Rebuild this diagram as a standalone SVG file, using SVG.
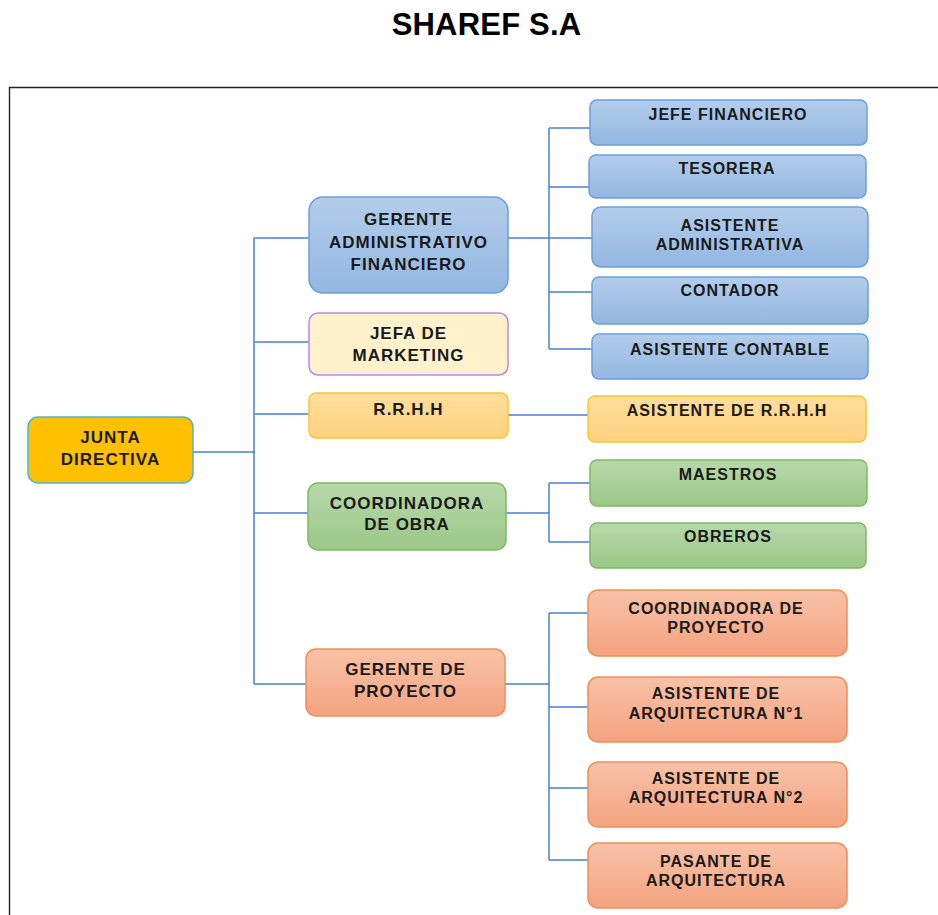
<svg xmlns="http://www.w3.org/2000/svg" width="938" height="915" viewBox="0 0 938 915">
<defs>
<linearGradient id="gBlue" x1="0" y1="0" x2="0" y2="1"><stop offset="0" stop-color="#B3CDEB"/><stop offset="1" stop-color="#93B7E1"/></linearGradient>
<linearGradient id="gYel" x1="0" y1="0" x2="0" y2="1"><stop offset="0" stop-color="#FFDE9C"/><stop offset="1" stop-color="#FFD27E"/></linearGradient>
<linearGradient id="gGreen" x1="0" y1="0" x2="0" y2="1"><stop offset="0" stop-color="#B7D9AB"/><stop offset="1" stop-color="#9BC886"/></linearGradient>
<linearGradient id="gOr" x1="0" y1="0" x2="0" y2="1"><stop offset="0" stop-color="#F8C2A8"/><stop offset="1" stop-color="#F4A380"/></linearGradient>
<style>
.blue{fill:url(#gBlue);stroke:#6C9FDA;stroke-width:1.5}
.yel{fill:url(#gYel);stroke:#FCC431;stroke-width:1.5}
.green{fill:url(#gGreen);stroke:#80B866;stroke-width:1.5}
.or{fill:url(#gOr);stroke:#F08E55;stroke-width:1.5}
.mk{fill:#FFF1CC;stroke:#B589EC;stroke-width:1.5}
.jd{fill:#FFC000;stroke:#4DB6D0;stroke-width:1.5}
text{font-family:"Liberation Sans",Arial,sans-serif;font-weight:bold;fill:#1a1a1a;text-anchor:middle}
.L{font-size:17px;letter-spacing:1px}
.S{font-size:16px;letter-spacing:1px}
.con{fill:none;stroke:#4E7FD2;stroke-width:1.5}
</style>
</defs>
<rect width="938" height="915" fill="#fff"/>
<text x="486.5" y="35" style="font-size:31px;letter-spacing:0.2px;fill:#000">SHAREF S.A</text>
<path d="M9.5 915 V87.5 H938" fill="none" stroke="#222" stroke-width="1.4"/>

<g id="connectors" class="con">
<path class="con" d="M193 452 H255"/>
<path class="con" d="M254 238 V684"/>
<path class="con" d="M254 238 H309 M254 342 H309 M254 414 H309 M254 513 H308 M254 684 H306"/>
<path class="con" d="M508 238 H592 M549 128 V349 M549 128 H590 M549 187 H589 M549 292 H592 M549 349 H592"/>
<path class="con" d="M508 415 H588"/>
<path class="con" d="M506 513 H549 M549 483 V542 M549 483 H590 M549 542 H590"/>
<path class="con" d="M505 684 H549 M549 613 V860 M549 613 H588 M549 707 H588 M549 788 H588 M549 860 H588"/>
</g>

<g id="junta"><rect class="jd" x="28" y="417" width="165" height="66" rx="10"/><text class="L" x="110.5" y="443">JUNTA</text><text class="L" x="110.5" y="465">DIRECTIVA</text></g>

<g id="gerente-admin"><rect class="blue" x="309" y="197" width="199" height="96" rx="14"/><text class="L" x="408.5" y="225">GERENTE</text><text class="L" x="408.5" y="248">ADMINISTRATIVO</text><text class="L" x="408.5" y="270">FINANCIERO</text></g>
<g id="marketing"><rect class="mk" x="309" y="313" width="199" height="62" rx="9"/><text class="L" x="408.5" y="338.5">JEFA DE</text><text class="L" x="408.5" y="361">MARKETING</text></g>
<g id="rrhh"><rect class="yel" x="309" y="393" width="199" height="45" rx="7"/><text class="L" x="408.5" y="415">R.R.H.H</text></g>
<g id="coord-obra"><rect class="green" x="308" y="483" width="198" height="67" rx="10"/><text class="L" x="407" y="508.5">COORDINADORA</text><text class="L" x="407" y="530">DE OBRA</text></g>
<g id="gerente-proy"><rect class="or" x="306" y="649" width="199" height="67" rx="10"/><text class="L" x="405.5" y="675">GERENTE DE</text><text class="L" x="405.5" y="697">PROYECTO</text></g>

<g id="jefe-fin"><rect class="blue" x="590" y="100" width="277" height="45" rx="7"/><text class="S" x="728" y="119.5">JEFE FINANCIERO</text></g>
<g id="tesorera"><rect class="blue" x="589" y="155" width="277" height="43" rx="7"/><text class="S" x="727" y="173.5">TESORERA</text></g>
<g id="asist-admin"><rect class="blue" x="592" y="207" width="276" height="60" rx="9"/><text class="S" x="730" y="230.5">ASISTENTE</text><text class="S" x="730" y="249.5">ADMINISTRATIVA</text></g>
<g id="contador"><rect class="blue" x="592" y="277" width="276" height="47" rx="7"/><text class="S" x="730" y="295.5">CONTADOR</text></g>
<g id="asist-contable"><rect class="blue" x="592" y="334" width="276" height="45" rx="7"/><text class="S" x="730" y="354.5">ASISTENTE CONTABLE</text></g>

<g id="asist-rrhh"><rect class="yel" x="588" y="396" width="278" height="46" rx="7"/><text class="S" x="727" y="415.5">ASISTENTE DE R.R.H.H</text></g>

<g id="maestros"><rect class="green" x="590" y="460" width="277" height="46" rx="7"/><text class="S" x="728" y="480">MAESTROS</text></g>
<g id="obreros"><rect class="green" x="590" y="523" width="276" height="45" rx="7"/><text class="S" x="728" y="542">OBREROS</text></g>

<g id="coord-proy"><rect class="or" x="588" y="590" width="259" height="66" rx="10"/><text class="S" x="716" y="614">COORDINADORA DE</text><text class="S" x="716" y="633">PROYECTO</text></g>
<g id="asist-arq1"><rect class="or" x="588" y="677" width="259" height="65" rx="10"/><text class="S" x="716" y="698.5">ASISTENTE DE</text><text class="S" x="716" y="718.5">ARQUITECTURA N°1</text></g>
<g id="asist-arq2"><rect class="or" x="588" y="762" width="259" height="65" rx="10"/><text class="S" x="716" y="783.5">ASISTENTE DE</text><text class="S" x="716" y="803">ARQUITECTURA N°2</text></g>
<g id="pasante"><rect class="or" x="588" y="843" width="259" height="65" rx="10"/><text class="S" x="716" y="867">PASANTE DE</text><text class="S" x="716" y="885.5">ARQUITECTURA</text></g>
</svg>
